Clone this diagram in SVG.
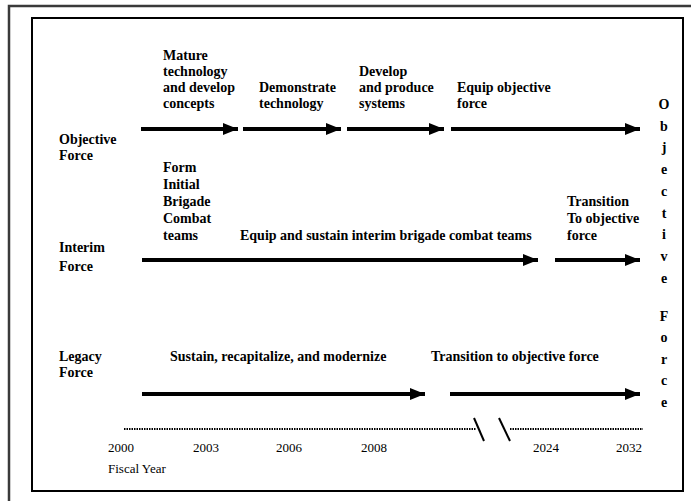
<svg xmlns="http://www.w3.org/2000/svg" width="691" height="501" viewBox="0 0 691 501">
<style>
.b{font-family:"Liberation Serif","Times New Roman",serif;font-weight:bold;font-size:14px;fill:#000}
.r{font-family:"Liberation Serif","Times New Roman",serif;font-size:13px;fill:#000}
.v{font-family:"Liberation Serif","Times New Roman",serif;font-weight:bold;font-size:14px;fill:#000;text-anchor:middle}
.ar{stroke:#000;stroke-width:4;fill:none;marker-end:url(#ah)}
.dot{stroke:#000;stroke-width:2;stroke-dasharray:1.5 1;fill:none}
</style>
<defs>
<marker id="ah" markerUnits="userSpaceOnUse" markerWidth="16" markerHeight="13" refX="15" refY="6.5" orient="auto">
<path d="M0,0.5 L15,6.5 L0,12.5 z" fill="#000"/>
</marker>
</defs>
<rect width="691" height="501" fill="#fff"/>
<rect x="9" y="6" width="700" height="520" fill="none" stroke="#3a3a3a" stroke-width="2.5"/>
<rect x="32" y="18" width="651" height="473" fill="none" stroke="#000" stroke-width="2"/>

<g id="connectors">
<line class="ar" x1="141" y1="129" x2="238" y2="129"/>
<line class="ar" x1="243" y1="129" x2="341" y2="129"/>
<line class="ar" x1="347" y1="129" x2="444" y2="129"/>
<line class="ar" x1="451" y1="129" x2="640" y2="129"/>
<line class="ar" x1="142" y1="260" x2="538" y2="260"/>
<line class="ar" x1="555" y1="260" x2="640" y2="260"/>
<line class="ar" x1="142" y1="394" x2="425" y2="394"/>
<line class="ar" x1="450" y1="394" x2="640" y2="394"/>
</g>

<g id="timeline">
<line class="dot" x1="124" y1="429" x2="476" y2="429"/>
<line class="dot" x1="510" y1="429" x2="643" y2="429"/>
<line x1="474" y1="418" x2="484" y2="441" stroke="#000" stroke-width="2"/>
<line x1="499" y1="418" x2="510" y2="441" stroke="#000" stroke-width="2"/>
<text class="r" x="108" y="452">2000</text>
<text class="r" x="193" y="452">2003</text>
<text class="r" x="276" y="452">2006</text>
<text class="r" x="361" y="452">2008</text>
<text class="r" x="533" y="452">2024</text>
<text class="r" x="616" y="452">2032</text>
<text class="r" x="108" y="473">Fiscal Year</text>
</g>

<g id="objective-force">
<text class="b" x="59" y="144">Objective</text>
<text class="b" x="59" y="160">Force</text>
</g>
<g id="mature">
<text class="b" x="163" y="60">Mature</text>
<text class="b" x="163" y="76">technology</text>
<text class="b" x="163" y="92">and develop</text>
<text class="b" x="163" y="108">concepts</text>
</g>
<g id="demonstrate">
<text class="b" x="259" y="92">Demonstrate</text>
<text class="b" x="259" y="108">technology</text>
</g>
<g id="develop">
<text class="b" x="359" y="76">Develop</text>
<text class="b" x="359" y="92">and produce</text>
<text class="b" x="359" y="108">systems</text>
</g>
<g id="equip-objective">
<text class="b" x="457" y="92">Equip objective</text>
<text class="b" x="457" y="108">force</text>
</g>

<g id="interim-force">
<text class="b" x="59" y="252">Interim</text>
<text class="b" x="59" y="271">Force</text>
</g>
<g id="form-initial">
<text class="b" x="163" y="172">Form</text>
<text class="b" x="163" y="189">Initial</text>
<text class="b" x="163" y="206">Brigade</text>
<text class="b" x="163" y="223">Combat</text>
<text class="b" x="163" y="240">teams</text>
</g>
<g id="equip-sustain">
<text class="b" x="240" y="240">Equip and sustain interim brigade combat teams</text>
</g>
<g id="transition-interim">
<text class="b" x="567" y="206">Transition</text>
<text class="b" x="567" y="223">To objective</text>
<text class="b" x="567" y="240">force</text>
</g>

<g id="legacy-force">
<text class="b" x="59" y="361">Legacy</text>
<text class="b" x="59" y="377">Force</text>
</g>
<g id="sustain">
<text class="b" x="170" y="361">Sustain, recapitalize, and modernize</text>
</g>
<g id="transition-legacy">
<text class="b" x="431" y="361">Transition to objective force</text>
</g>

<g id="objective-force-vertical">
<text class="v" x="664" y="109">O</text>
<text class="v" x="664" y="131">b</text>
<text class="v" x="664" y="152">j</text>
<text class="v" x="664" y="174">e</text>
<text class="v" x="664" y="196">c</text>
<text class="v" x="664" y="218">t</text>
<text class="v" x="664" y="239">i</text>
<text class="v" x="664" y="261">v</text>
<text class="v" x="664" y="283">e</text>
<text class="v" x="664" y="321">F</text>
<text class="v" x="664" y="342">o</text>
<text class="v" x="664" y="364">r</text>
<text class="v" x="664" y="385">c</text>
<text class="v" x="664" y="407">e</text>
</g>
</svg>
